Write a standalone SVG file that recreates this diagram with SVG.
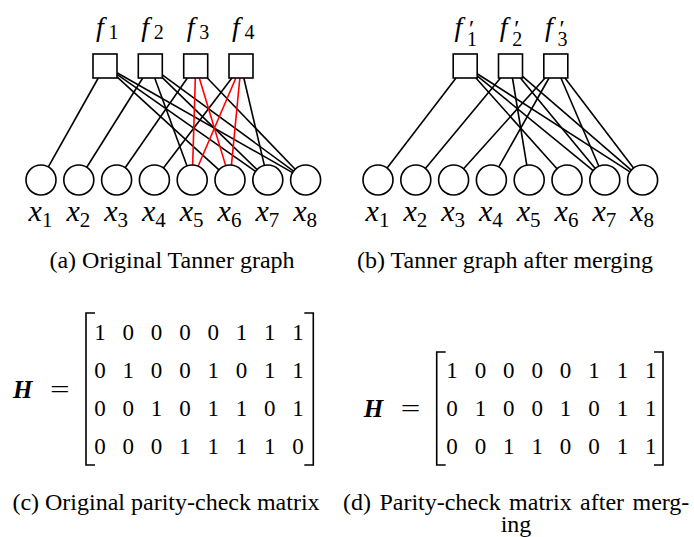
<svg xmlns="http://www.w3.org/2000/svg" width="694" height="537" viewBox="0 0 694 537">
<style>
.sq{fill:#fff;stroke:#000;stroke-width:1.6}
.var{fill:#fff;stroke:#000;stroke-width:1.6}
.e path{fill:none;stroke:#000;stroke-width:1.6}
.e path.r{stroke:#ff0000}
.m{font-family:"Liberation Serif",serif;font-style:italic;fill:#000}
.m tspan.s{font-style:normal}
.xl{font-size:30px;text-anchor:middle}
.fl{font-size:28px}
.cap{font-family:"Liberation Serif",serif;font-size:24px;fill:#000}
.num{font-family:"Liberation Serif",serif;font-size:23px;text-anchor:middle;fill:#000}
.brk{fill:none;stroke:#000;stroke-width:1.6}
.H{font-family:"Liberation Serif",serif;font-style:italic;font-weight:bold;font-size:25px}
.eq{font-family:"Liberation Serif",serif;font-size:24px}
</style>
<g id="edges-a" class="e">
<path d="M98.26,78 L48.34,166.92"/>
<path d="M117,76.94 L218.92,169.89"/>
<path d="M117,74.40 L255.51,171.40"/>
<path d="M117,72.82 L292.56,172.59"/>
<path d="M142.77,78 L86.77,167.29"/>
<path d="M154.71,78 L187.03,165.92"/>
<path d="M162.3,77.64 L257.03,169.55"/>
<path d="M162.3,74.81 L293.51,171.12"/>
<path d="M187.37,78 L125.15,167.68"/>
<path d="M207.27,78 L295.19,169.20"/>
<path d="M231.88,78 L163.47,168.06"/>
<path d="M243.82,78 L264.37,165.40"/>
<path class="r" d="M195.33,78 L192.66,165.01"/>
<path class="r" d="M199.31,78 L225.68,165.64"/>
<path class="r" d="M235.86,78 L198.10,166.21"/>
<path class="r" d="M239.84,78 L231.44,165.07"/>
</g>
<g id="edges-b" class="e">
<path d="M456.02,78 L387.11,168.09"/>
<path d="M475.92,78 L557.01,168.81"/>
<path d="M477.2,75.80 L593.18,170.51"/>
<path d="M477.2,73.71 L629.98,171.89"/>
<path d="M500.53,78 L425.38,168.46"/>
<path d="M512.47,78 L526.77,165.20"/>
<path d="M520.43,78 L595.24,168.44"/>
<path d="M522.5,76.36 L631.24,170.20"/>
<path d="M545.04,78 L463.61,168.83"/>
<path d="M549.02,78 L498.78,166.94"/>
<path d="M560.96,78 L598.88,166.22"/>
<path d="M564.94,78 L633.51,168.07"/>
</g>
<g id="a-f1"><rect class="sq" x="93" y="54" width="24" height="24"/><text class="m fl" x="96" y="35.5">f<tspan class="s" x="108.5" dy="3" font-size="20">1</tspan></text></g>
<g id="a-f2"><rect class="sq" x="138.3" y="54" width="24" height="24"/><text class="m fl" x="141.3" y="35.5">f<tspan class="s" x="153.8" dy="3" font-size="20">2</tspan></text></g>
<g id="a-f3"><rect class="sq" x="183.7" y="54" width="24" height="24"/><text class="m fl" x="186.7" y="35.5">f<tspan class="s" x="199.2" dy="3" font-size="20">3</tspan></text></g>
<g id="a-f4"><rect class="sq" x="229" y="54" width="24" height="24"/><text class="m fl" x="232" y="35.5">f<tspan class="s" x="244.5" dy="3" font-size="20">4</tspan></text></g>
<g id="a-x1"><circle class="var" cx="41" cy="180" r="15"/><text class="m xl" x="40.5" y="221">x<tspan class="s" dy="6" font-size="21">1</tspan></text></g>
<g id="a-x2"><circle class="var" cx="78.8" cy="180" r="15"/><text class="m xl" x="78.3" y="221">x<tspan class="s" dy="6" font-size="21">2</tspan></text></g>
<g id="a-x3"><circle class="var" cx="116.6" cy="180" r="15"/><text class="m xl" x="116.1" y="221">x<tspan class="s" dy="6" font-size="21">3</tspan></text></g>
<g id="a-x4"><circle class="var" cx="154.4" cy="180" r="15"/><text class="m xl" x="153.9" y="221">x<tspan class="s" dy="6" font-size="21">4</tspan></text></g>
<g id="a-x5"><circle class="var" cx="192.2" cy="180" r="15"/><text class="m xl" x="191.7" y="221">x<tspan class="s" dy="6" font-size="21">5</tspan></text></g>
<g id="a-x6"><circle class="var" cx="230" cy="180" r="15"/><text class="m xl" x="229.5" y="221">x<tspan class="s" dy="6" font-size="21">6</tspan></text></g>
<g id="a-x7"><circle class="var" cx="267.8" cy="180" r="15"/><text class="m xl" x="267.3" y="221">x<tspan class="s" dy="6" font-size="21">7</tspan></text></g>
<g id="a-x8"><circle class="var" cx="305.6" cy="180" r="15"/><text class="m xl" x="305.1" y="221">x<tspan class="s" dy="6" font-size="21">8</tspan></text></g>
<g id="b-f1"><rect class="sq" x="453.2" y="54" width="24" height="24"/><text class="m fl" x="454.5" y="35.5">f<tspan x="467.5" font-size="24">′</tspan><tspan class="s" x="467" dy="10" font-size="20">1</tspan></text></g>
<g id="b-f2"><rect class="sq" x="498.5" y="54" width="24" height="24"/><text class="m fl" x="499.8" y="35.5">f<tspan x="512.8" font-size="24">′</tspan><tspan class="s" x="512.3" dy="10" font-size="20">2</tspan></text></g>
<g id="b-f3"><rect class="sq" x="543.8" y="54" width="24" height="24"/><text class="m fl" x="545.1" y="35.5">f<tspan x="558.1" font-size="24">′</tspan><tspan class="s" x="557.6" dy="10" font-size="20">3</tspan></text></g>
<g id="b-x1"><circle class="var" cx="378" cy="180" r="15"/><text class="m xl" x="377.5" y="221">x<tspan class="s" dy="6" font-size="21">1</tspan></text></g>
<g id="b-x2"><circle class="var" cx="415.8" cy="180" r="15"/><text class="m xl" x="415.3" y="221">x<tspan class="s" dy="6" font-size="21">2</tspan></text></g>
<g id="b-x3"><circle class="var" cx="453.6" cy="180" r="15"/><text class="m xl" x="453.1" y="221">x<tspan class="s" dy="6" font-size="21">3</tspan></text></g>
<g id="b-x4"><circle class="var" cx="491.4" cy="180" r="15"/><text class="m xl" x="490.9" y="221">x<tspan class="s" dy="6" font-size="21">4</tspan></text></g>
<g id="b-x5"><circle class="var" cx="529.2" cy="180" r="15"/><text class="m xl" x="528.7" y="221">x<tspan class="s" dy="6" font-size="21">5</tspan></text></g>
<g id="b-x6"><circle class="var" cx="567" cy="180" r="15"/><text class="m xl" x="566.5" y="221">x<tspan class="s" dy="6" font-size="21">6</tspan></text></g>
<g id="b-x7"><circle class="var" cx="604.8" cy="180" r="15"/><text class="m xl" x="604.3" y="221">x<tspan class="s" dy="6" font-size="21">7</tspan></text></g>
<g id="b-x8"><circle class="var" cx="642.6" cy="180" r="15"/><text class="m xl" x="642.1" y="221">x<tspan class="s" dy="6" font-size="21">8</tspan></text></g>
<g id="captions">
<text class="cap" x="172" y="268" text-anchor="middle">(a) Original Tanner graph</text>
<text class="cap" x="505" y="268" text-anchor="middle">(b) Tanner graph after merging</text>
<text class="cap" x="166" y="509.5" text-anchor="middle">(c) Original parity-check matrix</text>
<text class="cap" x="343" y="509.5" word-spacing="2.4">(d) Parity-check matrix after merg-</text>
<text class="cap" x="516" y="532" text-anchor="middle">ing</text>
</g>
<g id="matrix-c">
<text class="H" x="13" y="398">H</text>
<text class="eq" x="50" y="396.5" textLength="19.6" lengthAdjust="spacingAndGlyphs">=</text>
<path class="brk" d="M95,313 H86 V465 H95"/>
<path class="brk" d="M304.3,313 H313.3 V465 H304.3"/>
<text class="num" y="340"><tspan x="100">1</tspan><tspan x="128.3">0</tspan><tspan x="156.6">0</tspan><tspan x="184.9">0</tspan><tspan x="213.2">0</tspan><tspan x="241.5">1</tspan><tspan x="269.8">1</tspan><tspan x="298.1">1</tspan></text>
<text class="num" y="378"><tspan x="100">0</tspan><tspan x="128.3">1</tspan><tspan x="156.6">0</tspan><tspan x="184.9">0</tspan><tspan x="213.2">1</tspan><tspan x="241.5">0</tspan><tspan x="269.8">1</tspan><tspan x="298.1">1</tspan></text>
<text class="num" y="416"><tspan x="100">0</tspan><tspan x="128.3">0</tspan><tspan x="156.6">1</tspan><tspan x="184.9">0</tspan><tspan x="213.2">1</tspan><tspan x="241.5">1</tspan><tspan x="269.8">0</tspan><tspan x="298.1">1</tspan></text>
<text class="num" y="454"><tspan x="100">0</tspan><tspan x="128.3">0</tspan><tspan x="156.6">0</tspan><tspan x="184.9">1</tspan><tspan x="213.2">1</tspan><tspan x="241.5">1</tspan><tspan x="269.8">1</tspan><tspan x="298.1">0</tspan></text>
</g>
<g id="matrix-d">
<text class="H" x="363.7" y="417">H</text>
<text class="eq" x="400.7" y="415.5" textLength="19.6" lengthAdjust="spacingAndGlyphs">=</text>
<path class="brk" d="M445.7,352 H436.7 V465 H445.7"/>
<path class="brk" d="M654,352 H663 V465 H654"/>
<text class="num" y="378"><tspan x="452">1</tspan><tspan x="480.4">0</tspan><tspan x="508.8">0</tspan><tspan x="537.2">0</tspan><tspan x="565.6">0</tspan><tspan x="594">1</tspan><tspan x="622.4">1</tspan><tspan x="650.8">1</tspan></text>
<text class="num" y="416"><tspan x="452">0</tspan><tspan x="480.4">1</tspan><tspan x="508.8">0</tspan><tspan x="537.2">0</tspan><tspan x="565.6">1</tspan><tspan x="594">0</tspan><tspan x="622.4">1</tspan><tspan x="650.8">1</tspan></text>
<text class="num" y="454"><tspan x="452">0</tspan><tspan x="480.4">0</tspan><tspan x="508.8">1</tspan><tspan x="537.2">1</tspan><tspan x="565.6">0</tspan><tspan x="594">0</tspan><tspan x="622.4">1</tspan><tspan x="650.8">1</tspan></text>
</g>
</svg>
